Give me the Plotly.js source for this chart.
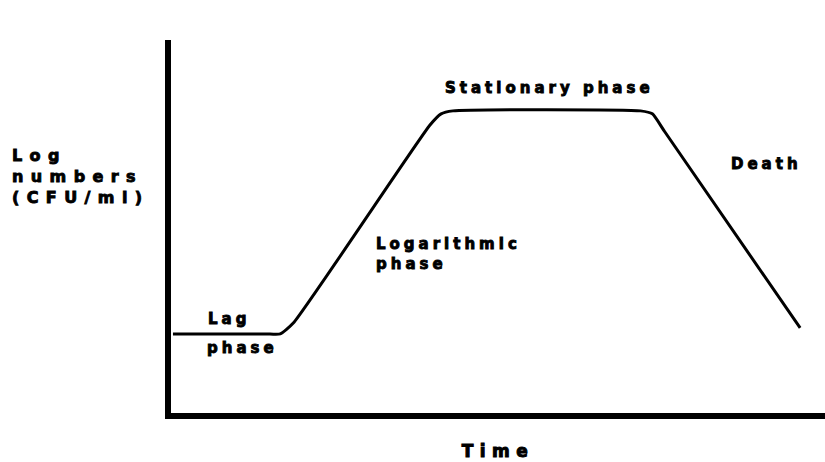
<!DOCTYPE html>
<html>
<head>
<meta charset="utf-8">
<script src="https://cdn.plot.ly/plotly-3.0.1.min.js"></script>
<style>
  html, body { margin: 0; padding: 0; background: #fff; }
  #chart { width: 825px; height: 462px; }
  .annotation text { letter-spacing: 4px; stroke: #000; stroke-width: 0.9px; }
  .annotation[data-index="5"] text { letter-spacing: 7.4px; }
  .xtitle { letter-spacing: 6.4px; stroke: #000; stroke-width: 1px; }
</style>
</head>
<body>
<div id="chart"></div>
<script>
// Growth curve (arbitrary time units, log CFU/ml units)
const time = [0.03, 1.45, 1.67, 1.87, 3.96, 4.13, 4.31, 7.18, 7.36, 7.55, 9.62];
const logCount = [2.12, 2.12, 2.12, 2.41, 7.72, 8.02, 8.10, 8.10, 8.02, 7.54, 2.28];

const phaseLabels = ['Stationary phase', 'Logarithmic<br>phase', 'Lag', 'phase', 'Death'];
const yLabel = 'Log<br>numbers<br>(CFU/ml)';
const xLabel = 'Time';

const FONT = 'DejaVu Sans, Arial Black, sans-serif';
const labelFont = { family: FONT, size: 15, color: '#000', weight: 'bold' };

const trace = {
  x: time, y: logCount,
  type: 'scatter', mode: 'lines',
  line: { color: '#000', width: 3, shape: 'spline', smoothing: 0.5 },
  hoverinfo: 'skip'
};

const annotations = [
  { text: phaseLabels[0], x: 5.78, y: 8.71, xanchor: 'center', yanchor: 'middle' },
  { text: phaseLabels[1], x: 3.10, y: 4.26, xanchor: 'left', yanchor: 'middle', align: 'left' },
  { text: phaseLabels[2], x: 0.89, y: 2.52, xanchor: 'center', yanchor: 'middle' },
  { text: phaseLabels[3], x: 1.09, y: 1.74, xanchor: 'center', yanchor: 'middle' },
  { text: phaseLabels[4], x: 9.10, y: 6.68, xanchor: 'center', yanchor: 'middle' }
].map(a => Object.assign({ xref: 'x', yref: 'y', showarrow: false, font: labelFont }, a));

annotations.push({
  text: yLabel, xref: 'paper', yref: 'paper', x: -0.246, y: 0.633,
  xanchor: 'left', yanchor: 'middle', align: 'left', showarrow: false,
  font: { family: FONT, size: 16, color: '#000', weight: 'bold' }
});

const layout = {
  width: 825, height: 462,
  margin: { l: 171, r: 0, t: 40, b: 49 },
  paper_bgcolor: '#fff', plot_bgcolor: '#fff',
  showlegend: false,
  xaxis: {
    range: [0, 10], fixedrange: true,
    showgrid: false, zeroline: false, showticklabels: false, ticks: '',
    showline: true, linecolor: '#000', linewidth: 6,
    title: { text: xLabel, standoff: 29, font: { family: FONT, size: 17, color: '#000', weight: 'bold' } }
  },
  yaxis: {
    range: [0, 10], fixedrange: true,
    showgrid: false, zeroline: false, showticklabels: false, ticks: '',
    showline: true, linecolor: '#000', linewidth: 6
  },
  annotations: annotations
};

Plotly.newPlot('chart', [trace], layout, { displayModeBar: false, staticPlot: true });
</script>
</body>
</html>
